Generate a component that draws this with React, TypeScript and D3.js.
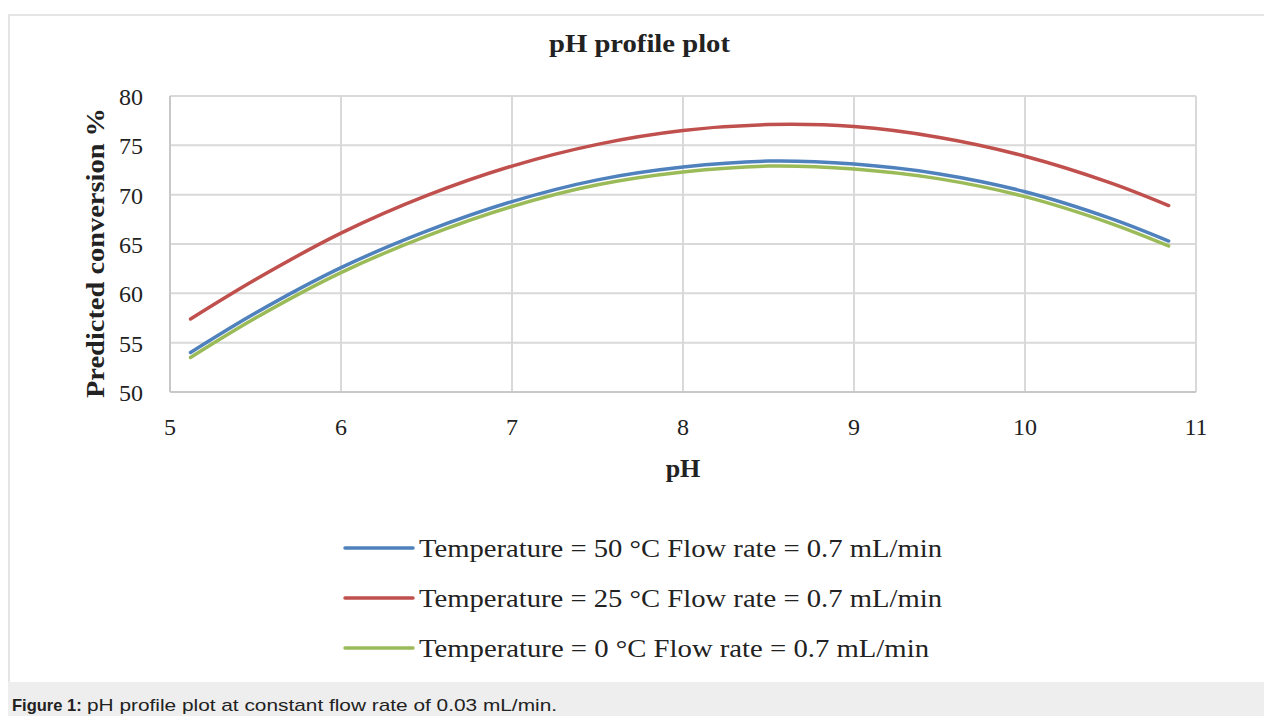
import React from "react";
import * as d3 from "d3";

const phValues = [5.12, 5.5, 6, 6.5, 7, 7.5, 8, 8.5, 9, 9.5, 10, 10.5, 10.84];
const temp50 = [54.0, 58.0, 62.6, 66.3, 69.3, 71.5, 72.8, 73.4, 73.1, 72.1, 70.3, 67.6, 65.3];
const temp25 = [57.4, 61.4, 66.1, 69.9, 72.9, 75.1, 76.5, 77.1, 76.9, 75.8, 73.9, 71.2, 68.9];
const temp0 = [53.5, 57.5, 62.1, 65.8, 68.8, 71.0, 72.3, 72.9, 72.6, 71.6, 69.8, 67.1, 64.8];
const xTicks = [5, 6, 7, 8, 9, 10, 11];
const yTicks = [50, 55, 60, 65, 70, 75, 80];
const seriesNames = [
  "Temperature = 50 °C Flow rate = 0.7 mL/min",
  "Temperature = 25 °C Flow rate = 0.7 mL/min",
  "Temperature = 0 °C Flow rate = 0.7 mL/min",
];
const seriesColors = ["#4F81BD", "#C0504D", "#9BBB59"];

export default function App() {
  const W = 1264, H = 716;
  const left = 170, right = 1196, top = 96, bottom = 392;
  const x = d3.scaleLinear().domain([5, 11]).range([left, right]);
  const y = d3.scaleLinear().domain([50, 80]).range([bottom, top]);
  const series = [temp50, temp25, temp0];
  const line = d3
    .line<number>()
    .x((_, i) => x(phValues[i]))
    .y((d) => y(d))
    .curve(d3.curveCatmullRom.alpha(0.5));
  const serif = "'Liberation Serif', 'Times New Roman', serif";
  const sans = "'Liberation Sans', Arial, sans-serif";
  const grid = "#d9d9d9";
  const legendLens = [523, 523, 510];
  return (
    <svg width={W} height={H} style={{ position: "absolute", left: 0, top: 0 }}>
      <rect x={0} y={0} width={W} height={H} fill="#fff" />
      <rect x={9} y={15} width={1262} height={690} fill="#fff" stroke="#dddddd" strokeWidth={1.5} />
      <rect x={8} y={682} width={1256} height={34} fill="#eeeeee" />
      <text x={12} y={711} fontFamily={sans} fontSize={16.5} fontWeight="bold" fill="#222">
        Figure 1:
      </text>
      <text x={87} y={711} fontFamily={sans} fontSize={17} fill="#222" textLength={470} lengthAdjust="spacingAndGlyphs">
        pH profile plot at constant flow rate of 0.03 mL/min.
      </text>
      <text x={549} y={52} fontFamily={serif} fontWeight="bold" fontSize={25} fill="#222" textLength={181} lengthAdjust="spacingAndGlyphs">
        pH profile plot
      </text>
      {yTicks.map((t) => (
        <line key={"gy" + t} x1={left} x2={right} y1={y(t)} y2={y(t)} stroke={grid} strokeWidth={2} />
      ))}
      {xTicks.map((t) => (
        <line key={"gx" + t} x1={x(t)} x2={x(t)} y1={top} y2={bottom} stroke={grid} strokeWidth={2} />
      ))}
      <line x1={left} x2={right} y1={bottom} y2={bottom} stroke="#c8c8c8" strokeWidth={2} />
      <line x1={left} x2={left} y1={top} y2={bottom} stroke="#c8c8c8" strokeWidth={2} />
      {yTicks.map((t) => (
        <text key={"ly" + t} x={143} y={y(t) + 9} textAnchor="end" fontFamily={serif} fontSize={24} fill="#222">
          {t}
        </text>
      ))}
      {xTicks.map((t) => (
        <text key={"lx" + t} x={x(t)} y={435} textAnchor="middle" fontFamily={serif} fontSize={24} fill="#222">
          {t}
        </text>
      ))}
      <text
        transform={`translate(104,253) rotate(-90)`}
        textAnchor="middle"
        fontFamily={serif}
        fontWeight="bold"
        fontSize={25}
        fill="#222"
        textLength={290}
        lengthAdjust="spacingAndGlyphs"
      >
        Predicted conversion %
      </text>
      <text x={683} y={477} textAnchor="middle" fontFamily={serif} fontWeight="bold" fontSize={26} fill="#222">
        pH
      </text>
      {series.map((s, i) => (
        <path key={"s" + i} d={line(s) || ""} fill="none" stroke={seriesColors[i]} strokeWidth={3.5} strokeLinecap="round" />
      ))}
      {seriesNames.map((n, i) => (
        <g key={"lg" + i}>
          <line x1={345} x2={413} y1={548 + i * 50} y2={548 + i * 50} stroke={seriesColors[i]} strokeWidth={3.5} strokeLinecap="round" />
          <text x={419} y={557 + i * 50} fontFamily={serif} fontSize={25} fill="#222" textLength={legendLens[i]} lengthAdjust="spacingAndGlyphs">
            {n}
          </text>
        </g>
      ))}
    </svg>
  );
}
